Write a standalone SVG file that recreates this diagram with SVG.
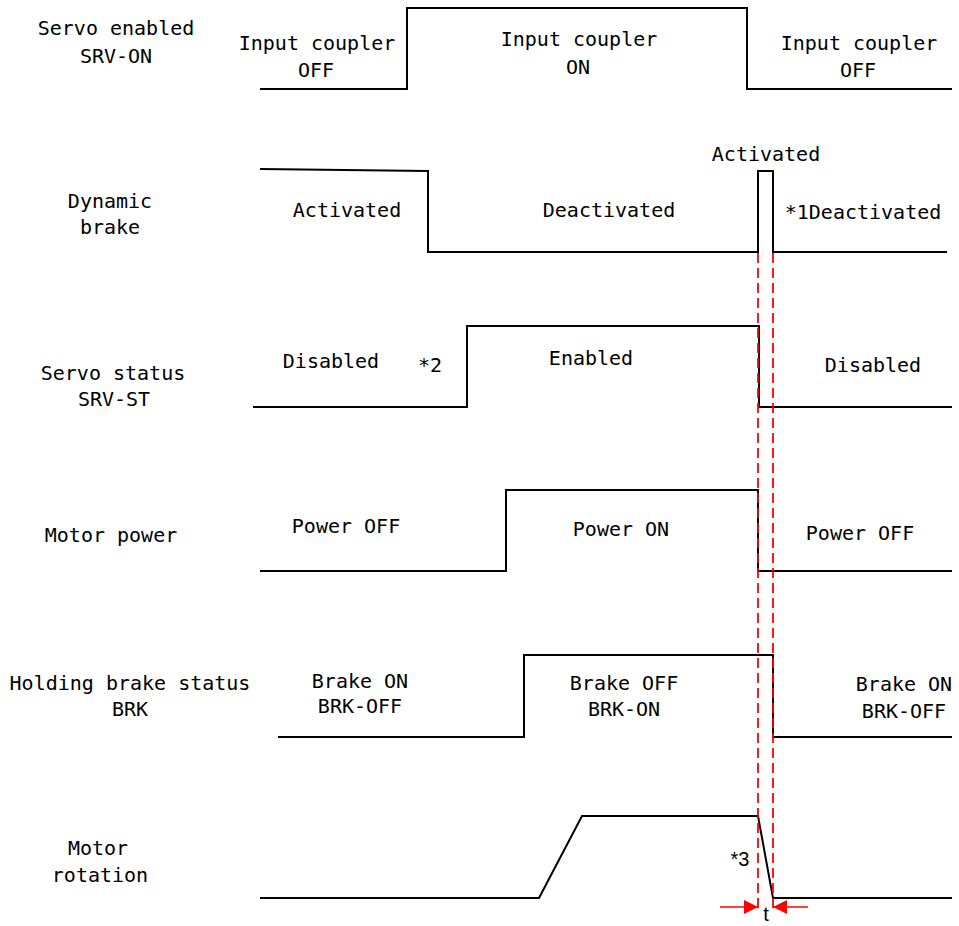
<svg xmlns="http://www.w3.org/2000/svg" width="959" height="926" viewBox="0 0 959 926">
<style>
.sig{fill:none;stroke:#000;stroke-width:2;stroke-linejoin:miter}
.t{font-family:"DejaVu Sans Mono","Liberation Mono",monospace;font-size:20px;fill:#000;text-anchor:middle}
.a{font-family:"Liberation Sans",Arial,sans-serif;font-size:20px;fill:#000;text-anchor:middle}
.dash{stroke:#ff0000;stroke-width:1.8;stroke-dasharray:10 5;fill:none}
.arr{stroke:#ff0000;stroke-width:1.5;fill:none}
</style>
<defs>
<marker id="ah" viewBox="0 0 10 10" refX="10" refY="5" markerUnits="userSpaceOnUse" markerWidth="15" markerHeight="14" orient="auto">
<path d="M0,0 L10,5 L0,10 z" fill="#ff0000"/>
</marker>
</defs>
<rect width="959" height="926" fill="#fff"/>

<g id="servo-enabled">
<text class="t" x="116" y="35">Servo enabled</text>
<text class="t" x="116" y="63">SRV-ON</text>
<polyline class="sig" points="260,89 407,89 407,8 747,8 747,89 952,89"/>
<text class="t" x="317" y="50">Input coupler</text>
<text class="t" x="316" y="77">OFF</text>
<text class="t" x="579" y="46">Input coupler</text>
<text class="t" x="578" y="74">ON</text>
<text class="t" x="859" y="50">Input coupler</text>
<text class="t" x="858" y="77">OFF</text>
</g>

<g id="dynamic-brake">
<text class="t" x="110" y="208">Dynamic</text>
<text class="t" x="110" y="234">brake</text>
<polyline class="sig" points="260,169 428,171 428,252 758,252 758,171 773,171 773,252 947,252"/>
<text class="t" x="347" y="217">Activated</text>
<text class="t" x="609" y="217">Deactivated</text>
<text class="t" x="766" y="161">Activated</text>
<text class="t" x="863" y="219">*1Deactivated</text>
</g>

<g id="servo-status">
<text class="t" x="113" y="380">Servo status</text>
<text class="t" x="114" y="406">SRV-ST</text>
<polyline class="sig" points="253,407 467,407 467,326 759,326 759,407 952,407"/>
<text class="t" x="331" y="368">Disabled</text>
<text class="t" x="430" y="372">*2</text>
<text class="t" x="591" y="365">Enabled</text>
<text class="t" x="873" y="372">Disabled</text>
</g>

<g id="motor-power">
<text class="t" x="111" y="542">Motor power</text>
<polyline class="sig" points="260,571 506,571 506,490 758,490 758,571 952,571"/>
<text class="t" x="346" y="533">Power OFF</text>
<text class="t" x="621" y="536">Power ON</text>
<text class="t" x="860" y="540">Power OFF</text>
</g>

<g id="holding-brake">
<text class="t" x="130" y="690">Holding brake status</text>
<text class="t" x="130" y="716">BRK</text>
<polyline class="sig" points="278,737 524,737 524,655 773,655 773,737 952,737"/>
<text class="t" x="360" y="688">Brake ON</text>
<text class="t" x="360" y="713">BRK-OFF</text>
<text class="t" x="624" y="690">Brake OFF</text>
<text class="t" x="624" y="716">BRK-ON</text>
<text class="t" x="904" y="691">Brake ON</text>
<text class="t" x="904" y="718">BRK-OFF</text>
</g>

<g id="motor-rotation">
<text class="t" x="98" y="855">Motor</text>
<text class="t" x="100" y="882">rotation</text>
<polyline class="sig" points="260,898 539,898 582,816 758,816 773,898 952,898"/>
<text class="a" x="740" y="866">*3</text>
</g>

<g id="connectors">
<line class="dash" x1="758" y1="253" x2="758" y2="908"/>
<line class="dash" x1="773" y1="253" x2="773" y2="908"/>
<line class="arr" x1="720" y1="907" x2="758" y2="907" marker-end="url(#ah)"/>
<line class="arr" x1="808" y1="907" x2="773" y2="907" marker-end="url(#ah)"/>
<text class="a" x="766" y="921">t</text>
</g>
</svg>
